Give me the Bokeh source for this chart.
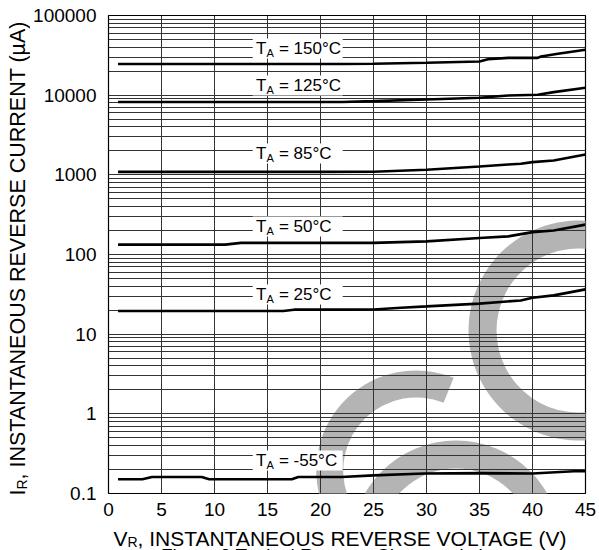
import math
from bokeh.plotting import figure
from bokeh.layouts import row, column
from bokeh.models import FixedTicker, CustomJSTickFormatter, Range1d
from bokeh.core.properties import value
from bokeh.embed import file_html
from bokeh.resources import INLINE

# ---------------- data ----------------
v_150 = [0.9, 10, 20, 22, 25, 30, 35, 35.8, 37.7, 40.5, 40.8, 42.4, 45]
i_150 = [24600, 24600, 24600, 24600, 24800, 25500, 26500, 28300, 29400, 29400, 30600, 33100, 37200]

v_125 = [0.9, 10, 20, 22, 25, 30, 35, 37.7, 40.5, 42, 45]
i_125 = [8200, 8200, 8200, 8200, 8410, 8830, 9270, 9910, 10120, 10910, 12400]

v_85 = [0.9, 10, 20, 25, 30, 35, 37.7, 38.9, 40, 42, 45]
i_85 = [1090, 1090, 1090, 1094, 1159, 1274, 1350, 1377, 1443, 1516, 1803]

v_50 = [0.9, 11, 12.5, 20, 25, 30, 35, 37.7, 40, 42, 45]
i_50 = [133, 133, 140, 140, 140, 146, 161, 169, 191, 200, 237]

v_25 = [0.9, 16.5, 17.5, 22, 25, 27.6, 30, 35, 38.9, 40, 42, 45]
i_25 = [19.5, 19.5, 20.3, 20.3, 20.4, 21.5, 22.3, 24.2, 26.5, 28.7, 30.7, 36.5]

v_m55 = [0.9, 3.2, 4.1, 8.8, 9.5, 17.3, 17.9, 22, 25, 29.8, 35.1, 40, 43.9, 45]
i_m55 = [0.151, 0.151, 0.161, 0.161, 0.151, 0.151, 0.161, 0.161, 0.169, 0.178, 0.180, 0.178, 0.19, 0.19]

temps = ["150", "125", "85", "50", "25", "-55"]

x_ticks = [0, 5, 10, 15, 20, 25, 30, 35, 40, 45]
y_ticks = [0.1, 1, 10, 100, 1000, 10000, 100000]
y_minor = [m * d for d in [0.1, 1, 10, 100, 1000, 10000] for m in range(2, 10)]

x_title = ", INSTANTANEOUS REVERSE VOLTAGE (V)"
y_title = ", INSTANTANEOUS REVERSE CURRENT (\u00b5A)"
caption = "Figure 2 Typical Reverse Characteristics"

# ---------------- layout (page pixels) ----------------
W, H = 599, 550
LW = 30                                     # width of the strip holding the y title
MH = 520                                    # height of the main chart
FL, FT, FW, FH = 106, 15, 479, 478          # plot frame in page pixels
FONT = "Liberation Sans"


def vx(px):
    return (px - FL) / (FW / 45.0)


def vy(py):
    return 10 ** (5 - (py - FT) / (FH / 6.0))


def no_align(fig):
    try:
        fig.frame_align = False
    except Exception:
        pass
    return fig


def bare(fig):
    fig.background_fill_color = "white"
    fig.border_fill_color = "white"
    fig.outline_line_color = None
    fig.grid.grid_line_color = None
    return no_align(fig)


# ---------------- main chart ----------------
p = figure(width=W - LW, height=MH, y_axis_type="log",
           x_range=(0, 45), y_range=(0.1, 100000),
           output_backend="svg", toolbar_location=None,
           min_border_left=FL - LW, min_border_right=W - FL - FW,
           min_border_top=FT, min_border_bottom=MH - FT - FH)
no_align(p)

p.background_fill_color = "white"
p.border_fill_color = "white"
p.outline_line_color = "black"
p.outline_line_width = 1.2

p.xaxis.ticker = FixedTicker(ticks=x_ticks)
p.yaxis.ticker = FixedTicker(ticks=y_ticks, minor_ticks=y_minor)
p.yaxis.formatter = CustomJSTickFormatter(code="return tick.toString();")
for ax in (p.xaxis[0], p.yaxis[0]):
    ax.axis_line_color = None
    ax.major_tick_line_color = None
    ax.minor_tick_line_color = None
    ax.major_tick_out = 0
    ax.major_tick_in = 0
    ax.minor_tick_out = 0
    ax.minor_tick_in = 0
    ax.major_label_text_font = FONT
    ax.major_label_text_font_size = "19px"
    ax.major_label_text_color = "black"
p.xaxis.major_label_standoff = 9
p.yaxis.major_label_standoff = 12

p.xgrid.grid_line_color = "#333333"
p.ygrid.grid_line_color = "#333333"
p.ygrid.minor_grid_line_color = "#333333"

# watermark arcs (grey, beneath the grid)
wm = [  # (centre x, centre y, inner r, outer r, start deg, end deg) in page px
    (415, 470, 73, 100, 68, 200),
    (455, 545, 77, 105, 0, 180),
    (578, 330, 82, 110, 70, 290),
]
for cx, cy, ri, ro, a0, a1 in wm:
    p.annular_wedge(x=[vx(cx)], y=[vy(cy)], inner_radius=[ri], outer_radius=[ro],
                    inner_radius_units="screen", outer_radius_units="screen",
                    start_angle=[math.radians(a0)], end_angle=[math.radians(a1)],
                    fill_color="#b4b4b4", line_color=None, level="image")

for vs, cs in [(v_150, i_150), (v_125, i_125), (v_85, i_85),
               (v_50, i_50), (v_25, i_25), (v_m55, i_m55)]:
    p.line(vs, cs, line_color="black", line_width=2.6)

label_py = [48, 85, 153, 226, 294, 460]
tx = vx(254)
for t, py in zip(temps, label_py):
    yv = vy(py)
    p.rect(x=[vx(296)], y=[yv], width=[90], height=[20],
           width_units="screen", height_units="screen",
           fill_color="white", line_color=None)
    p.text(x=[tx], y=[yv], text=["T"], text_font=value(FONT),
           text_font_size="17px", text_baseline="middle", text_align="left",
           text_color="black")
    p.text(x=[tx], y=[yv], text=["A"], x_offset=10.5, y_offset=4,
           text_font=value(FONT), text_font_size="11px",
           text_baseline="middle", text_align="left", text_color="black")
    p.text(x=[tx], y=[yv], text=["= " + t + "\u00b0C"], x_offset=23,
           text_font=value(FONT), text_font_size="17px",
           text_baseline="middle", text_align="left", text_color="black")

# ---------------- strip with the rotated y title ----------------
left = bare(figure(width=LW, height=H, x_range=Range1d(0, LW), y_range=Range1d(H, 0),
                   output_backend="svg", toolbar_location=None,
                   x_axis_location=None, y_axis_location=None, min_border=0))
rot = math.pi / 2
left.text(x=[17], y=[495], text=["I"], angle=rot, text_font=value(FONT),
          text_font_size="21.5px", text_align="left", text_baseline="alphabetic",
          text_color="black")
left.text(x=[21], y=[489], text=["R"], angle=rot, text_font=value(FONT),
          text_font_size="14px", text_align="left", text_baseline="alphabetic",
          text_color="black")
left.text(x=[17], y=[479], text=[y_title], angle=rot, text_font=value(FONT),
          text_font_size="21.5px", text_align="left", text_baseline="alphabetic",
          text_color="black")

# ---------------- strip with the x title and the caption ----------------
bottom = bare(figure(width=W - LW, height=H - MH, x_range=Range1d(LW, W),
                     y_range=Range1d(H, MH), output_backend="svg",
                     toolbar_location=None, x_axis_location=None,
                     y_axis_location=None, min_border=0))
bottom.text(x=[113], y=[537.5], text=["V"], text_font=value(FONT),
            text_font_size="21px", text_align="left", text_baseline="alphabetic",
            text_color="black")
bottom.text(x=[127], y=[541], text=["R"], text_font=value(FONT),
            text_font_size="14px", text_align="left", text_baseline="alphabetic",
            text_color="black")
bottom.text(x=[137], y=[537.5], text=[x_title], text_font=value(FONT),
            text_font_size="21px", text_align="left", text_baseline="alphabetic",
            text_color="black")
bottom.text(x=[331], y=[555], text=[caption], text_font=value(FONT),
            text_font_size="19px", text_align="center", text_baseline="alphabetic",
            text_color="black")

layout = row(left, column(p, bottom, spacing=0), spacing=0)
open("out.html", "w").write(file_html(layout, INLINE))
